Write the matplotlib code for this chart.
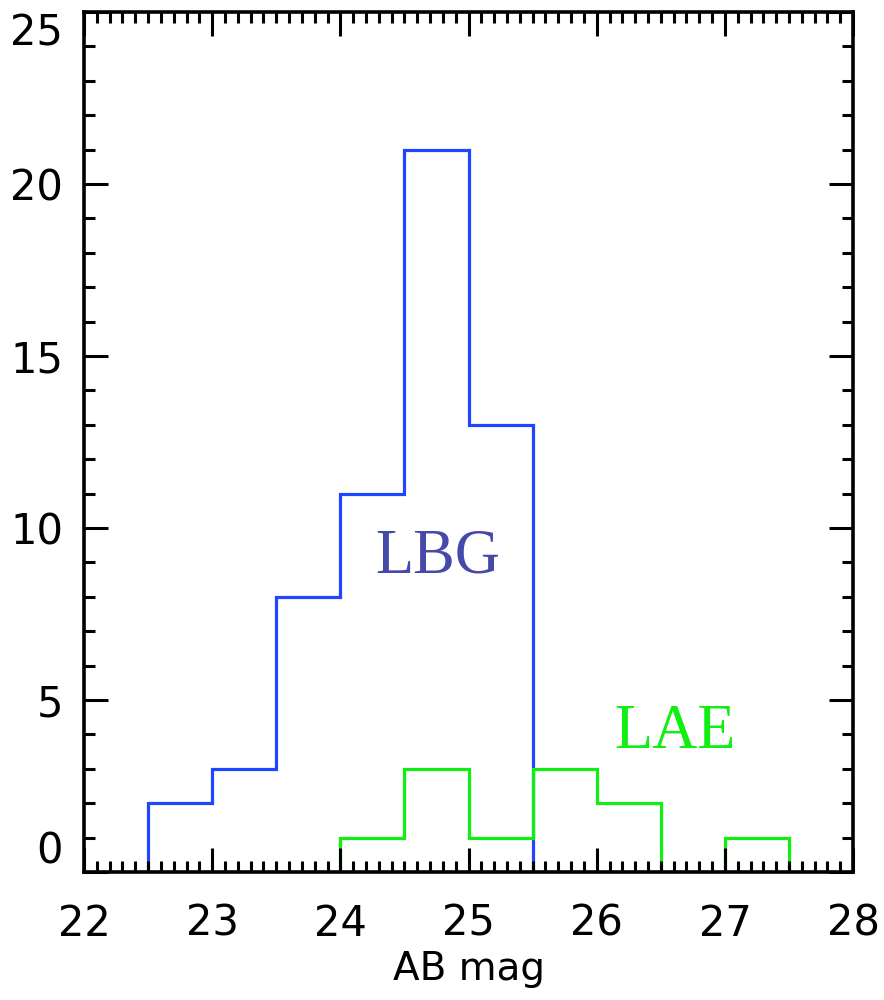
import matplotlib.pyplot as plt
from matplotlib.ticker import MultipleLocator

# ヒストグラムのデータ
lbg_edges = [22.5, 23.0, 23.5, 24.0, 24.5, 25.0, 25.5]
lbg_counts = [2, 3, 8, 11, 21, 13]
lae_edges = [24.0, 24.5, 25.0, 25.5, 26.0, 26.5, 27.0, 27.5]
lae_counts = [1, 3, 1, 3, 2, 0, 1]

x_ticks = [22, 23, 24, 25, 26, 27, 28]
y_ticks = [0, 5, 10, 15, 20, 25]

fig = plt.figure(figsize=(8.84, 10), dpi=100)
ax = fig.add_axes([0.095, 0.128, 0.87, 0.86])

ax.stairs(lbg_counts, lbg_edges, color='#1f45ff', linewidth=2.3)
ax.stairs(lae_counts, lae_edges, color='#11ee11', linewidth=2.3)

ax.text(24.27, 8.7, 'LBG', color='#4549aa', fontsize=45,
        family='Liberation Serif', ha='left', va='baseline')
ax.text(26.14, 3.6, 'LAE', color='#11ee11', fontsize=45,
        family='Liberation Serif', ha='left', va='baseline')

ax.set_xlim(22, 28)
ax.set_ylim(0, 25)
ax.set_xticks(x_ticks)
ax.set_yticks(y_ticks)
ax.xaxis.set_minor_locator(MultipleLocator(0.1))
ax.yaxis.set_minor_locator(MultipleLocator(1))
ax.set_axisbelow(False)

ax.tick_params(which='both', direction='in', top=True, right=True,
               width=2.2, labelsize=30)
ax.tick_params(which='major', length=17)
ax.tick_params(which='minor', length=8)
ax.tick_params(axis='x', pad=22)
ax.tick_params(axis='y', pad=15)
for s in ax.spines.values():
    s.set_linewidth(2.6)

# 端のラベル位置を調整
fig.canvas.draw()
ylabels = ax.get_yticklabels()
ylabels[0].set_va('bottom')
ylabels[-1].set_va('top')

ax.set_xlabel('AB mag', fontsize=28, labelpad=4)

plt.savefig('out.png', dpi=100)
plt.close()
